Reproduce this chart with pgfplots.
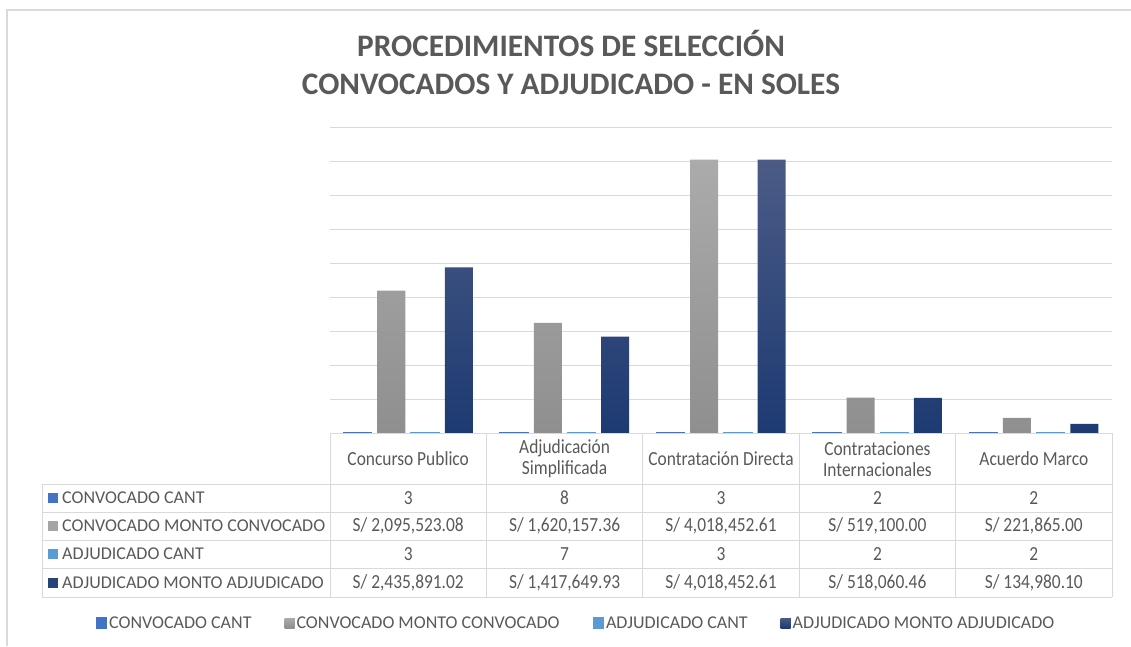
\documentclass[border=0pt]{standalone}
\usepackage{pgfplots}
\pgfplotsset{compat=1.18}
\usepackage{fontspec}
\setmainfont{Carlito}
\newfontfamily\lblfont[FakeStretch=0.87]{Carlito}
\newfontfamily\legfont{Carlito}
\newfontfamily\numfont[FakeStretch=0.87]{Carlito}
\definecolor{txt}{HTML}{595959}
\definecolor{gridc}{HTML}{D9D9D9}
\definecolor{cA}{HTML}{4472C4}
\definecolor{cB}{HTML}{A5A5A5}
\definecolor{cC}{HTML}{5B9BD5}
\definecolor{cD}{HTML}{264478}
\definecolor{gTop}{HTML}{ABABAB}
\definecolor{gBot}{HTML}{8F8F8F}
\definecolor{nTop}{HTML}{4B5B86}
\definecolor{nMid}{HTML}{23417A}
\definecolor{nBot}{HTML}{1D3A72}
\begin{document}
\begin{tikzpicture}[x=1pt,y=1pt]
\useasboundingbox (0,0) rectangle (1131,646);
% frame
\draw[gridc, line width=2pt] (7,0) -- (7,636) -- (1131,636);
% title
\node[anchor=base, text=txt, font=\fontsize{31.3}{36}\selectfont\bfseries, inner sep=0pt] at (571,589) {PROCEDIMIENTOS DE SELECCIÓN};
\node[anchor=base, text=txt, font=\fontsize{31.3}{36}\selectfont\bfseries, inner sep=0pt] at (571,551) {CONVOCADOS Y ADJUDICADO - EN SOLES};

\begin{axis}[
  at={(330pt,213pt)}, anchor=south west,
  scale only axis, width=782pt, height=306pt,
  ymin=0, ymax=4500000, xmin=-0.5, xmax=4.5,
  ytick={0,500000,...,4500000}, yticklabels={}, scaled y ticks=false,
  xtick=\empty,
  ymajorgrids, grid style={gridc, line width=1pt},
  axis line style={draw=none}, tick style={draw=none},
  ybar=5.7pt, bar width=28pt,
  clip=false,
  legend columns=4,
  legend style={at={(0.3146,-0.621)}, anchor=center, draw=none, fill=none,
    font=\legfont\fontsize{18}{20}\selectfont, text=txt,
    /tikz/every even column/.append style={column sep=31pt}},
  legend cell align=left,
]
\addplot[fill=cA, draw=cA, line width=1.5pt,
  legend image code/.code={\fill[cA] (-3pt,-5pt) rectangle (7pt,5pt);}]
  coordinates {(0,3) (1,8) (2,3) (3,2) (4,2)};
\addplot[top color=gTop, bottom color=gBot, draw=none,
  legend image code/.code={\fill[cB] (-3pt,-5pt) rectangle (7pt,5pt);}]
  coordinates {(0,2095523.08) (1,1620157.36) (2,4018452.61) (3,519100.00) (4,221865.00)};
\addplot[fill=cC, draw=cC, line width=1.5pt,
  legend image code/.code={\fill[cC] (-3pt,-5pt) rectangle (7pt,5pt);}]
  coordinates {(0,3) (1,7) (2,3) (3,2) (4,2)};
\addplot[top color=nTop, middle color=nMid, bottom color=nBot, draw=none,
  legend image code/.code={\fill[cD] (-3pt,-5pt) rectangle (7pt,5pt);}]
  coordinates {(0,2435891.02) (1,1417649.93) (2,4018452.61) (3,518060.46) (4,134980.10)};
\legend{CONVOCADO CANT, CONVOCADO MONTO CONVOCADO, ADJUDICADO CANT, ADJUDICADO MONTO ADJUDICADO}
\end{axis}

% data table
\begin{scope}[gridc, line width=1pt]
\draw (330,213) -- (1112,213);
\foreach \y in {162,134,106,78,49} {\draw (42,\y) -- (1112,\y);}
\draw (42,162) -- (42,49);
\foreach \x in {330,486.4,642.8,799.2,955.6,1112} {\draw (\x,213) -- (\x,49);}
\end{scope}
% header
\begin{scope}[every node/.style={text=txt, font=\lblfont\fontsize{20}{21}\selectfont, inner sep=0pt, align=center}]
\node at (408.2,187) {Concurso Publico};
\node at (564.6,187) {Adjudicación\\Simplificada};
\node at (721.0,187) {Contratación Directa};
\node at (877.4,187) {Contrataciones\\Internacionales};
\node at (1033.8,187) {Acuerdo Marco};
\end{scope}
% left column
\begin{scope}[every node/.style={text=txt, font=\legfont\fontsize{18}{20}\selectfont, inner sep=0pt, anchor=west}]
\fill[cA] (48,143) rectangle (58,153); \node at (62,148) {CONVOCADO CANT};
\fill[cB] (48,115) rectangle (58,125); \node at (62,120) {CONVOCADO MONTO CONVOCADO};
\fill[cC] (48,87) rectangle (58,97);   \node at (62,92) {ADJUDICADO CANT};
\fill[cD] (48,58) rectangle (58,68);   \node at (62,63) {ADJUDICADO MONTO ADJUDICADO};
\end{scope}
% cell values
\begin{scope}[every node/.style={text=txt, font=\numfont\fontsize{20}{21}\selectfont, inner sep=0pt}]
\node at (408.2,148) {3};
\node at (564.6,148) {8};
\node at (721.0,148) {3};
\node at (877.4,148) {2};
\node at (1033.8,148) {2};
\node at (408.2,120) {S/ 2,095,523.08};
\node at (564.6,120) {S/ 1,620,157.36};
\node at (721.0,120) {S/ 4,018,452.61};
\node at (877.4,120) {S/ 519,100.00};
\node at (1033.8,120) {S/ 221,865.00};
\node at (408.2,92) {3};
\node at (564.6,92) {7};
\node at (721.0,92) {3};
\node at (877.4,92) {2};
\node at (1033.8,92) {2};
\node at (408.2,63) {S/ 2,435,891.02};
\node at (564.6,63) {S/ 1,417,649.93};
\node at (721.0,63) {S/ 4,018,452.61};
\node at (877.4,63) {S/ 518,060.46};
\node at (1033.8,63) {S/ 134,980.10};
\end{scope}
\end{tikzpicture}
\end{document}
